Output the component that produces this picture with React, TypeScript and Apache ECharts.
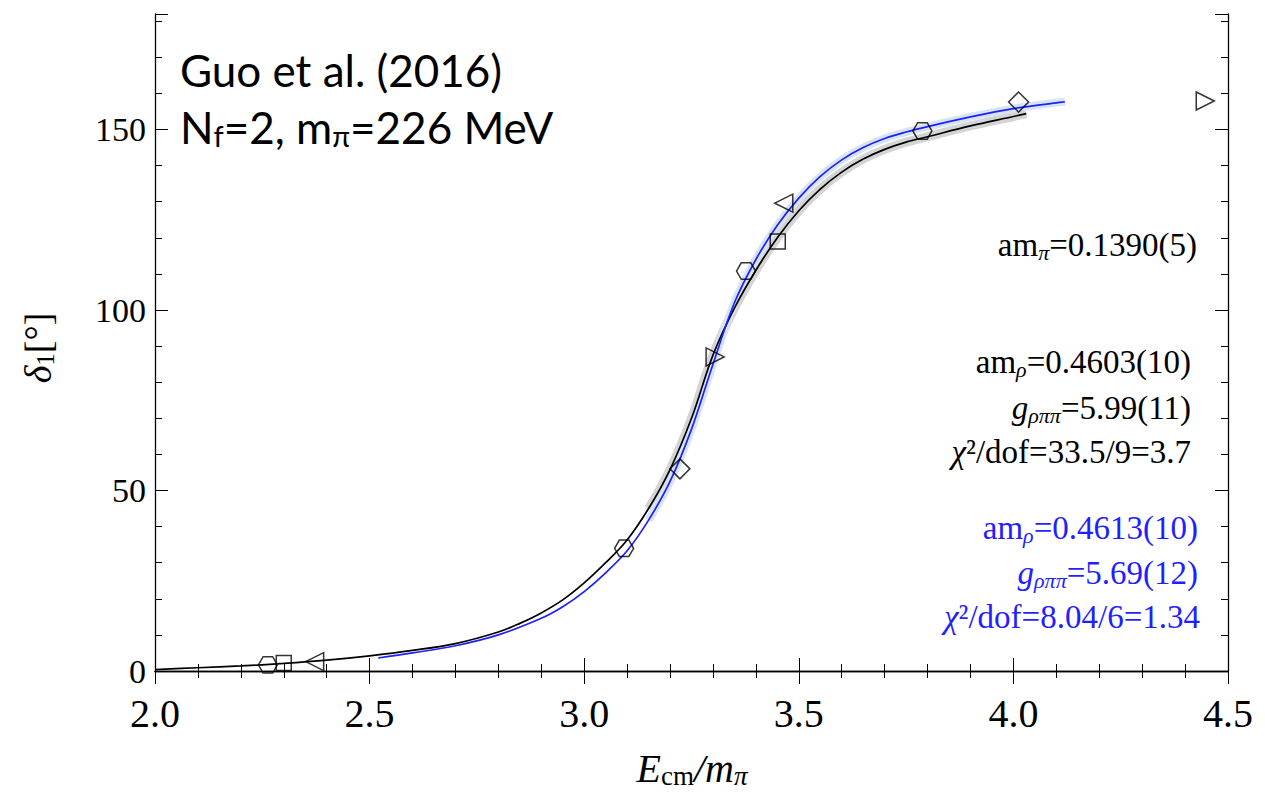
import React, { useEffect, useRef } from "react";
import * as echarts from "echarts";

// Black fit curve (x = E_cm/m_pi, y = delta_1 in degrees)
const blackX = [2.0, 2.1, 2.2, 2.3, 2.4, 2.5, 2.6, 2.7, 2.8, 2.85, 2.9, 2.95, 3.0, 3.05, 3.1, 3.15, 3.2, 3.25, 3.3, 3.35, 3.4, 3.45, 3.5, 3.55, 3.6, 3.65, 3.7, 3.75, 3.8, 3.9, 4.0, 4.03];
const blackY = [0.4, 0.9, 1.4, 2.1, 3.0, 4.2, 5.7, 7.6, 10.8, 13.2, 16.1, 19.7, 24.4, 30.0, 36.3, 45.0, 55.8, 70.0, 87.5, 100.5, 111.0, 120.0, 127.5, 133.5, 138.2, 141.8, 144.5, 146.5, 148.0, 151.0, 153.6, 154.4];

// Blue fit curve
const blueX = [2.52, 2.6, 2.7, 2.8, 2.9, 2.95, 3.0, 3.05, 3.1, 3.15, 3.2, 3.25, 3.3, 3.35, 3.4, 3.45, 3.5, 3.55, 3.6, 3.65, 3.7, 3.75, 3.8, 3.9, 4.0, 4.1, 4.12];
const blueY = [3.6, 5.0, 7.0, 10.0, 14.6, 17.8, 22.0, 27.2, 33.3, 41.8, 52.5, 67.0, 85.0, 102.0, 114.0, 123.5, 131.0, 137.0, 141.6, 145.0, 147.5, 149.3, 150.8, 153.5, 155.8, 157.4, 157.7];

// Lattice data points by marker shape
const hexX = [2.263, 3.093, 3.377, 3.788];
const hexY = [1.7, 34.0, 110.8, 149.6];
const squareX = [2.3, 3.451];
const squareY = [2.2, 119.0];
const leftTriX = [2.372, 3.465];
const leftTriY = [2.6, 129.6];
const diamondX = [3.223, 4.012];
const diamondY = [56.0, 157.6];
const rightTriX = [3.305, 4.447];
const rightTriY = [87.0, 157.9];

const xTicks = [2.0, 2.5, 3.0, 3.5, 4.0, 4.5];
const yTicks = [0, 50, 100, 150];

const SERIF = "Liberation Serif";
const SANS = "Lato";

const zip = (xs: number[], ys: number[]) => xs.map((x, i) => [x, ys[i]]);

export default function App() {
  const ref = useRef<HTMLDivElement>(null);
  useEffect(() => {
    document.body.style.margin = "0";
    const chart = echarts.init(ref.current!, null, { renderer: "svg" });

    const hollow = { color: "rgba(0,0,0,0)", borderColor: "#000", borderWidth: 1.5 };
    const scatter = (name: string, xs: number[], ys: number[], symbol: string, size: number) => ({
      type: "scatter",
      name,
      data: zip(xs, ys),
      symbol,
      symbolSize: size,
      symbolKeepAspect: true,
      itemStyle: hollow,
      z: 5,
    });

    const xCommon = {
      type: "value",
      min: 2.0,
      max: 4.5,
      interval: 0.5,
      splitLine: { show: false },
      axisLine: { show: true, lineStyle: { color: "#000", width: 1.3 } },
      axisTick: { show: true, inside: true, length: 13, lineStyle: { color: "#000", width: 1 } },
      minorTick: { show: true, splitNumber: 5, length: 7, lineStyle: { color: "#000", width: 1 } },
    };
    const yCommon = {
      type: "value",
      min: 0,
      max: 182,
      interval: 50,
      splitLine: { show: false },
      axisLine: { show: true, lineStyle: { color: "#000", width: 1.3 } },
      axisTick: { show: true, inside: true, length: 13, lineStyle: { color: "#000", width: 1 } },
      minorTick: { show: true, splitNumber: 5, length: 7, lineStyle: { color: "#000", width: 1 } },
    };

    const annot = (text: string, x: number, y: number, color: string) => ({
      type: "text",
      x,
      y,
      style: {
        text,
        fill: color,
        align: "right",
        verticalAlign: "middle",
        font: `33px ${SERIF}`,
        rich: {
          n: { fontFamily: SERIF, fontSize: 33, color, lineHeight: 38 },
          i: { fontFamily: SERIF, fontSize: 33, fontStyle: "italic", color, lineHeight: 38 },
          s: { fontFamily: SERIF, fontSize: 22, fontStyle: "italic", color, lineHeight: 38, padding: [15, 0, 0, 0] },
        },
      },
      z: 10,
    });

    const lineBase = { type: "line", showSymbol: false, smooth: 0.35 };

    const option = {
      animation: false,
      backgroundColor: "#fff",
      textStyle: { fontFamily: SERIF },
      grid: { left: 155, right: 37, top: 14, bottom: 124, containLabel: false },
      xAxis: [
        {
          ...xCommon,
          position: "bottom",
          axisLabel: {
            show: true,
            margin: 22,
            fontFamily: SERIF,
            fontSize: 40,
            color: "#000",
            formatter: (v: number) => (xTicks.includes(+v.toFixed(1)) ? v.toFixed(1) : ""),
          },
        },
        { ...xCommon, position: "top", axisLabel: { show: false } },
      ],
      yAxis: [
        {
          ...yCommon,
          position: "left",
          axisLabel: {
            show: true,
            margin: 9,
            fontFamily: SERIF,
            fontSize: 34,
            color: "#000",
            formatter: (v: number) => (yTicks.includes(v) ? String(v) : ""),
          },
        },
        { ...yCommon, position: "right", axisLabel: { show: false } },
      ],
      series: [
        {
          ...lineBase,
          name: "blackBand",
          data: zip(blackX, blackY).filter((p) => p[0] >= 3.15),
          lineStyle: { color: "#d4d4d4", width: 9 },
          z: 1,
        },
        {
          ...lineBase,
          name: "blueBand",
          data: zip(blueX, blueY).filter((p) => p[0] >= 3.15),
          lineStyle: { color: "#d6e4f4", width: 8 },
          z: 2,
        },
        {
          ...lineBase,
          name: "black",
          data: zip(blackX, blackY),
          lineStyle: { color: "#000", width: 1.7 },
          z: 3,
        },
        {
          ...lineBase,
          name: "blue",
          data: zip(blueX, blueY),
          lineStyle: { color: "#1f1fff", width: 1.7 },
          z: 4,
        },
        scatter("hexagon", hexX, hexY, "path://M-10,0L-5,-8.66L5,-8.66L10,0L5,8.66L-5,8.66Z", 19),
        scatter("square", squareX, squareY, "rect", 15),
        scatter("leftTriangle", leftTriX, leftTriY, "path://M-10,0L8,-9L8,9Z", 18),
        scatter("diamond", diamondX, diamondY, "path://M0,-10L10,0L0,10L-10,0Z", 20),
        scatter("rightTriangle", rightTriX, rightTriY, "path://M10,0L-8,-9L-8,9Z", 18),
      ],
      graphic: [
        {
          type: "text",
          x: 180,
          y: 70,
          style: { text: "Guo et al. (2016)", fill: "#000", font: `44px ${SANS}`, verticalAlign: "middle", align: "left" },
          z: 10,
        },
        {
          type: "text",
          x: 180,
          y: 127,
          style: {
            text: "{n|N}{s|f}{n|=2, m}{s|π}{n|=226 MeV}",
            fill: "#000",
            verticalAlign: "middle",
            align: "left",
            font: `44px ${SANS}`,
            rich: {
              n: { fontFamily: SANS, fontSize: 44, color: "#000", lineHeight: 50 },
              s: { fontFamily: SANS, fontSize: 29, color: "#000", lineHeight: 50, padding: [16, 0, 0, 0] },
            },
          },
          z: 10,
        },
        annot("{n|am}{s|π}{n|=0.1390(5)}", 1197, 245, "#000"),
        annot("{n|am}{s|ρ}{n|=0.4603(10)}", 1191, 362, "#000"),
        annot("{i|g}{s|ρππ}{n|=5.99(11)}", 1191, 408, "#000"),
        annot("{i|χ}{n|²/dof=33.5/9=3.7}", 1191, 452, "#000"),
        annot("{n|am}{s|ρ}{n|=0.4613(10)}", 1198, 528, "#1f1fff"),
        annot("{i|g}{s|ρππ}{n|=5.69(12)}", 1198, 573, "#1f1fff"),
        annot("{i|χ}{n|²/dof=8.04/6=1.34}", 1200, 617, "#1f1fff"),
        {
          type: "text",
          x: 692,
          y: 768,
          style: {
            text: "{i|E}{c|cm}{i|/m}{s|π}",
            align: "center",
            verticalAlign: "middle",
            font: `40px ${SERIF}`,
            rich: {
              i: { fontFamily: SERIF, fontSize: 40, fontStyle: "italic", color: "#000", lineHeight: 46 },
              c: { fontFamily: SERIF, fontSize: 27, color: "#000", lineHeight: 46, padding: [16, 0, 0, 0] },
              s: { fontFamily: SERIF, fontSize: 27, fontStyle: "italic", color: "#000", lineHeight: 46, padding: [16, 0, 0, 0] },
            },
          },
          z: 10,
        },
        {
          type: "text",
          x: 38,
          y: 348,
          rotation: Math.PI / 2,
          style: {
            text: "{i|δ}{s|1}{n|[°]}",
            align: "center",
            verticalAlign: "middle",
            font: `38px ${SERIF}`,
            rich: {
              i: { fontFamily: SERIF, fontSize: 38, fontStyle: "italic", color: "#000", lineHeight: 44 },
              s: { fontFamily: SERIF, fontSize: 25, color: "#000", lineHeight: 44, padding: [14, 0, 0, 0] },
              n: { fontFamily: SERIF, fontSize: 38, color: "#000", lineHeight: 44 },
            },
          },
          z: 10,
        },
      ],
    };
    chart.setOption(option as any);
    return () => chart.dispose();
  }, []);
  return <div ref={ref} style={{ width: 1265, height: 795 }} />;
}
